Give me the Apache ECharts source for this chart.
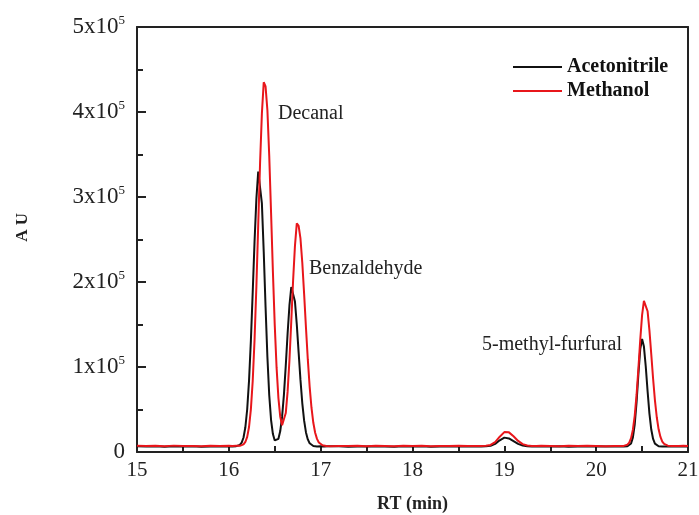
<!DOCTYPE html>
<html>
<head>
<meta charset="utf-8">
<script src="https://cdn.jsdelivr.net/npm/echarts@6/dist/echarts.min.js"></script>
<style>
  html, body { margin: 0; padding: 0; background: #ffffff; }
  #chart { width: 699px; height: 515px; }
</style>
</head>
<body>
<div id="chart"></div>
<script>
// Retention time (min)
const retentionTime = [
  15.0, 15.1, 15.2, 15.3, 15.4, 15.5, 15.6, 15.7, 15.8, 15.9,
  16.00, 16.02, 16.04, 16.06, 16.08, 16.10, 16.12, 16.14, 16.16, 16.18,
  16.20, 16.22, 16.24, 16.26, 16.28, 16.30, 16.32, 16.34, 16.36, 16.38,
  16.40, 16.42, 16.44, 16.46, 16.48, 16.50, 16.52, 16.54, 16.56, 16.58,
  16.60, 16.62, 16.64, 16.66, 16.68, 16.70, 16.72, 16.74, 16.76, 16.78,
  16.80, 16.82, 16.84, 16.86, 16.88, 16.90, 16.92, 16.94, 16.96, 16.98,
  17.00, 17.02, 17.04, 17.06, 17.08, 17.10,
  17.2, 17.3, 17.4, 17.5, 17.6, 17.7, 17.8, 17.9, 18.0, 18.1, 18.2, 18.3, 18.4, 18.5, 18.6,
  18.70, 18.75, 18.80, 18.85, 18.90, 18.95, 19.00, 19.05, 19.10, 19.15, 19.20, 19.25, 19.30, 19.35, 19.40,
  19.5, 19.6, 19.7, 19.8, 19.9, 20.0, 20.1, 20.2,
  20.30, 20.32, 20.34, 20.36, 20.38, 20.40, 20.42, 20.44, 20.46, 20.48,
  20.50, 20.52, 20.54, 20.56, 20.58, 20.60, 20.62, 20.64, 20.66, 20.68,
  20.70, 20.72, 20.74, 20.76, 20.78, 20.80, 20.82, 20.84,
  20.90, 20.95, 21.0
];

// Detector response (AU), acetonitrile extraction
const acetonitrile = [
  6900, 6400, 6700, 6200, 6800, 6500, 6900, 6300, 6600, 6400,
  6800, 6300, 6600, 6500, 6900, 7100, 8300, 11000, 17100, 29100,
  50300, 84000, 130700, 187900, 247500, 297800, 330000, 328000, 292400, 235500,
  170500, 111700, 66800, 37600, 21100, 13600, 12100, 15500, 24700, 41600,
  67500, 101600, 139400, 172400, 194000, 193500, 177100, 150000, 117200, 84800,
  57300, 36800, 23000, 14800, 10300, 8100, 7100, 6700, 6600, 6400,
  6700, 6300, 6600, 6400, 6700, 6500,
  6800, 6300, 6600, 6400, 6900, 6500, 6200, 6700, 6500, 6800, 6300, 6600, 6400, 6800, 6500,
  6500, 6600, 6700, 7300, 9600, 13800, 16900, 16000, 12900, 9600, 7600, 6800, 6600, 6400, 6700,
  6500, 6800, 6300, 6600, 6400, 6700, 6500, 6600,
  6500, 6540, 6730, 7500, 10100, 17200, 32600, 58500, 91800, 121100,
  133000, 124000, 100600, 71500, 45200, 26400, 15300, 9900, 7600, 6800,
  6600, 6400, 6700, 6500, 6300, 6600, 6400, 6700,
  6500, 6800, 6400
];

// Detector response (AU), methanol extraction
const methanol = [
  7400, 7100, 7300, 6900, 7500, 7000, 7200, 6800, 7300, 7100,
  7300, 6800, 7200, 7000, 7400, 7100, 7250, 7700, 8900, 11800,
  17800, 29400, 50200, 83500, 131900, 194600, 267200, 339400, 398400, 435000,
  430000, 402100, 348400, 281200, 211700, 149300, 99200, 63400, 41300, 31500,
  32900, 45800, 71000, 108000, 153900, 202000, 242500, 269000, 266000, 251200,
  222600, 185700, 146100, 108900, 77000, 52100, 34400, 22600, 15400, 11200,
  9000, 7900, 7400, 7100, 7300, 6900,
  7200, 7000, 7400, 6900, 7300, 7100, 6800, 7300, 7000, 7400, 6900, 7200, 7000, 7300, 7100,
  7000, 7100, 7300, 8300, 11700, 18000, 23400, 23100, 18500, 13000, 9300, 7700, 7200, 7000, 7300,
  7100, 6900, 7300, 7000, 7400, 7100, 6800, 7200,
  7200, 7560, 8580, 11000, 16300, 26200, 42800, 67400, 98500, 131900,
  161000, 177800, 178300, 165600, 143000, 115000, 86200, 60800, 40900, 26700,
  17700, 12300, 9460, 8060, 7420, 7150, 7050, 7300,
  7000, 7300, 7100
];

// Y tick labels as mantissas of 10^5
const yTickMantissa = ['0', '1', '2', '3', '4', '5'];

const seriesNames = ['Acetonitrile', 'Methanol'];
const seriesColors = ['#111111', '#e8161b'];

const peakLabels = [
  { text: 'Decanal', left: 278, top: 104 },
  { text: 'Benzaldehyde', left: 309, top: 259 },
  { text: '5-methyl-furfural', left: 482, top: 335 }
];

const serif = '"Liberation Serif", "Times New Roman", serif';
const axisColor = '#222222';

const chart = echarts.init(document.getElementById('chart'), null, { renderer: 'canvas' });

const pairs = (values) => retentionTime.map((t, i) => [t, values[i]]);

chart.setOption({
  backgroundColor: '#ffffff',
  animation: false,
  grid: {
    left: 137, right: 11, top: 27, bottom: 63,
    containLabel: false, outerBoundsMode: 'none'
  },
  legend: {
    orient: 'vertical',
    left: 508,
    top: 52,
    itemWidth: 49,
    itemHeight: 2,
    itemGap: 4,
    icon: 'rect',
    data: seriesNames,
    textStyle: {
      fontFamily: serif, fontWeight: 'bold', fontSize: 20, color: '#111', lineHeight: 20
    }
  },
  xAxis: [
    {
      type: 'value', min: 15, max: 21, interval: 1,
      axisLine: { show: true, onZero: false, lineStyle: { color: axisColor, width: 2 } },
      axisTick: { show: true, inside: true, length: 6, lineStyle: { color: axisColor, width: 2 } },
      minorTick: { show: true, splitNumber: 2, length: 6, lineStyle: { color: axisColor, width: 2 } },
      axisLabel: { margin: 8, fontFamily: serif, fontSize: 21, color: '#222' },
      splitLine: { show: false },
      name: 'RT (min)', nameLocation: 'middle', nameGap: 43,
      nameTextStyle: { fontFamily: serif, fontWeight: 'bold', fontSize: 18, color: '#222' }
    },
    {
      type: 'value', min: 15, max: 21, position: 'top',
      axisLine: { show: true, onZero: false, lineStyle: { color: axisColor, width: 2 } },
      axisTick: { show: false }, axisLabel: { show: false }, splitLine: { show: false }
    }
  ],
  yAxis: [
    {
      type: 'value', min: 0, max: 500000, interval: 100000,
      axisLine: { show: true, onZero: false, lineStyle: { color: axisColor, width: 2 } },
      axisTick: { show: true, inside: true, length: 9, lineStyle: { color: axisColor, width: 2 } },
      minorTick: { show: true, splitNumber: 2, length: 6, lineStyle: { color: axisColor, width: 2 } },
      splitLine: { show: false },
      axisLabel: {
        margin: 12,
        formatter: (v) => {
          const m = yTickMantissa[Math.round(v / 100000)];
          return m === '0' ? '{b|0}' : '{b|' + m + 'x10}{s|5}';
        },
        rich: {
          b: { fontFamily: serif, fontSize: 23, color: '#222' },
          s: { fontFamily: serif, fontSize: 13, color: '#222', padding: [0, 0, 13, 0] }
        }
      }
    },
    {
      type: 'value', min: 0, max: 500000, position: 'right',
      axisLine: { show: true, onZero: false, lineStyle: { color: axisColor, width: 2 } },
      axisTick: { show: false }, axisLabel: { show: false }, splitLine: { show: false }
    }
  ],
  graphic: [
    {
      type: 'text', left: 14, top: 213, rotation: Math.PI / 2,
      style: { text: 'A U', font: 'bold 17px ' + serif, fill: '#222' }
    }
  ].concat(peakLabels.map((p) => ({
    type: 'text', left: p.left, top: p.top,
    style: { text: p.text, font: '20px ' + serif, fill: '#222' }
  }))),
  series: [
    {
      name: seriesNames[0], type: 'line', data: pairs(acetonitrile),
      showSymbol: false, symbol: 'none',
      lineStyle: { color: seriesColors[0], width: 2 },
      itemStyle: { color: seriesColors[0] }
    },
    {
      name: seriesNames[1], type: 'line', data: pairs(methanol),
      showSymbol: false, symbol: 'none',
      lineStyle: { color: seriesColors[1], width: 2 },
      itemStyle: { color: seriesColors[1] }
    }
  ]
});
</script>
</body>
</html>
